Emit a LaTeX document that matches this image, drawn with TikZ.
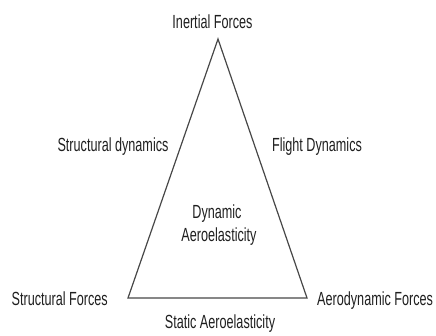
\documentclass[tikz,border=0pt]{standalone}
\usepackage{fontspec}
\setmainfont{Liberation Sans}[FakeStretch=0.665]
\begin{document}
\begin{tikzpicture}[x=1pt,y=-1pt,
  lbl/.style={inner sep=0pt, text=black!88, font=\fontsize{19}{23}\selectfont},
  edge/.style={draw=black!72, line width=1.2pt, line join=miter}]
\useasboundingbox (0,0) rectangle (436,335);
\coordinate (top) at (218,39);
\coordinate (bl) at (128,298);
\coordinate (br) at (307,298);
\draw[edge] (top) -- (bl) -- (br) -- cycle;
\node[lbl, anchor=base] (inertial) at (212.5,28) {Inertial Forces};
\node[lbl, anchor=base] (strdyn) at (113,151) {Structural dynamics};
\node[lbl, anchor=base] (flight) at (317,151) {Flight Dynamics};
\node[lbl, anchor=base] (dyn1) at (217,218) {Dynamic};
\node[lbl, anchor=base] (dyn2) at (219,241) {Aeroelasticity};
\node[lbl, anchor=base east] (strf) at (108,305) {Structural Forces};
\node[lbl, anchor=base west] (aero) at (317,305) {Aerodynamic Forces};
\node[lbl, anchor=base] (static) at (220,328) {Static Aeroelasticity};
\end{tikzpicture}
\end{document}
